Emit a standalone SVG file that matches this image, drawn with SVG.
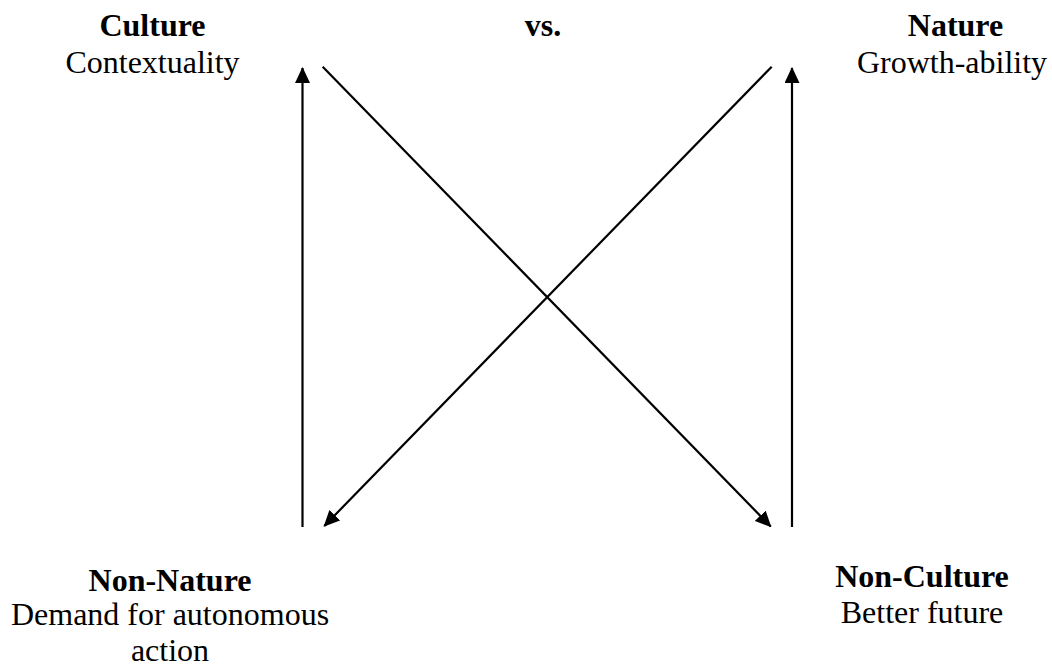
<svg xmlns="http://www.w3.org/2000/svg" width="1052" height="666" viewBox="0 0 1052 666">
<style>
text{font-family:"Liberation Serif","Times New Roman",serif;font-size:32px;fill:#000;text-anchor:middle}
.b{font-weight:bold}
.c{stroke:#000;stroke-width:2.2;fill:none}
</style>
<defs>
<marker id="ah" viewBox="0 0 16 15" refX="15" refY="7.5" markerWidth="16" markerHeight="15" markerUnits="userSpaceOnUse" orient="auto">
<path d="M0,0 L16,7.5 L0,15 Z" fill="#000"/>
</marker>
</defs>
<rect width="1052" height="666" fill="#fff"/>
<g id="culture">
<text x="152.5" y="36" class="b">Culture</text>
<text x="152.5" y="73">Contextuality</text>
</g>
<g id="vs">
<text x="543" y="36" class="b">vs.</text>
</g>
<g id="nature">
<text x="955.5" y="36" class="b">Nature</text>
<text x="952" y="73">Growth-ability</text>
</g>
<g id="non-nature">
<text x="170" y="591" class="b">Non-Nature</text>
<text x="170" y="625">Demand for autonomous</text>
<text x="170" y="661">action</text>
</g>
<g id="non-culture">
<text x="922" y="587" class="b">Non-Culture</text>
<text x="922" y="623">Better future</text>
</g>
<g id="connectors">
<line class="c" x1="302.5" y1="527" x2="302.5" y2="68" marker-end="url(#ah)"/>
<line class="c" x1="792" y1="527" x2="792" y2="68" marker-end="url(#ah)"/>
<line class="c" x1="322.7" y1="66.7" x2="770.7" y2="526.5" marker-end="url(#ah)"/>
<line class="c" x1="771.7" y1="66.7" x2="324.3" y2="526" marker-end="url(#ah)"/>
</g>
</svg>
